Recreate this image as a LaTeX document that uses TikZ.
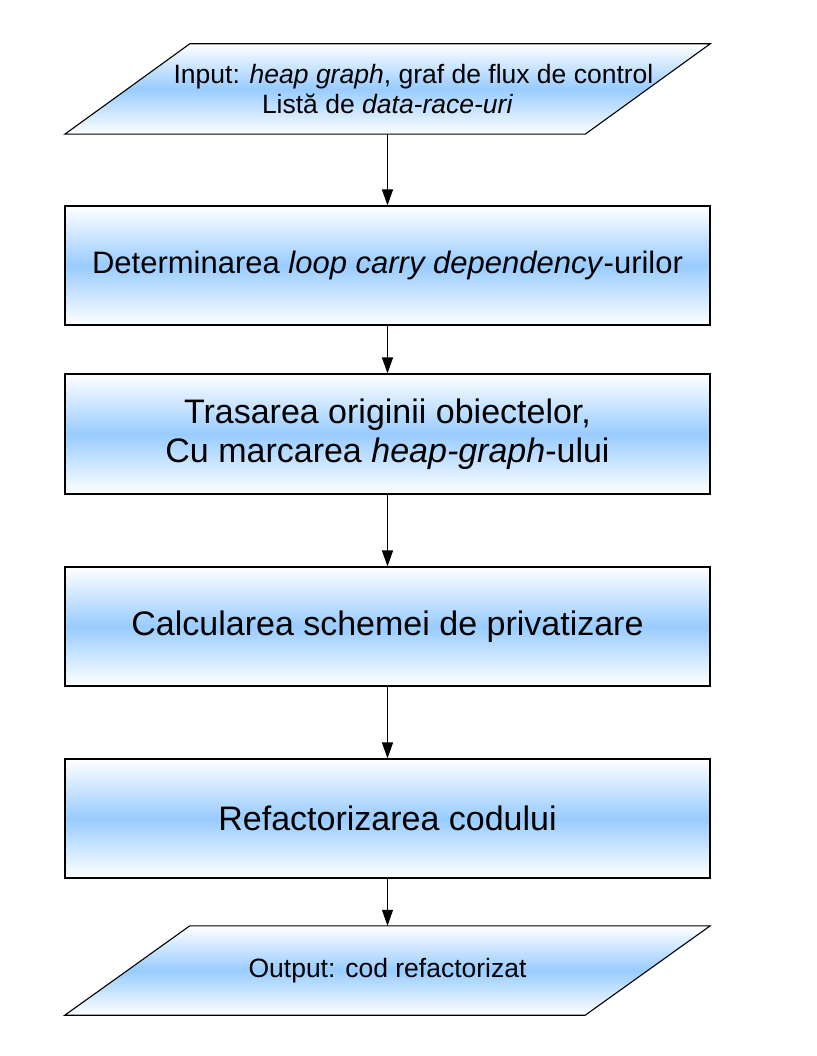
\documentclass[tikz,border=0pt]{standalone}
\usepackage{fontspec}
\setmainfont{Liberation Sans}
\usetikzlibrary{arrows.meta,backgrounds}
\definecolor{gblue}{HTML}{99CCFF}
\begin{document}
\begin{tikzpicture}[x=1pt,y=-1pt,
  stepbox/.style={rectangle, draw=black, line width=1.1pt, top color=white, bottom color=white, middle color=gblue, minimum width=645pt, minimum height=119pt, inner sep=0pt, align=center, font=\fontsize{34}{39}\selectfont},
  iobox/.style={rectangle, minimum width=645pt, minimum height=90pt, inner sep=0pt, align=center, font=\fontsize{26.5}{30.5}\selectfont},
  parashape/.style={draw=black, line width=1.1pt, top color=white, bottom color=white, middle color=gblue},
  flow/.style={draw=black, line width=1.1pt, -{Triangle[length=16pt,width=11pt]}}]
\useasboundingbox (0,0) rectangle (816,1056);

\node[iobox] (in) at (387.5,89) {\hspace*{52pt}Input: \textit{heap graph}, graf de flux de control\\ Listă de \textit{data-race-uri}};
\node[stepbox, font=\fontsize{31}{36}\selectfont] (b1) at (387.5,265.5) {Determinarea \textit{loop carry dependency}-urilor};
\node[stepbox, minimum height=120pt] (b2) at (387.5,434) {Trasarea originii obiectelor,\\ Cu marcarea \textit{heap-graph}-ului};
\node[stepbox] (b3) at (387.5,626.5) {Calcularea schemei de privatizare};
\node[stepbox] (b4) at (387.5,818.5) {Refactorizarea codului};
\node[iobox, minimum height=89pt] (out) at (387.5,970.5) {Output: cod refactorizat};

\begin{pgfonlayer}{background}
  \path[parashape] (in.south west) -- ([xshift=-125pt]in.south east) -- (in.north east) -- ([xshift=125pt]in.north west) -- cycle;
  \path[parashape] (out.south west) -- ([xshift=-125pt]out.south east) -- (out.north east) -- ([xshift=125pt]out.north west) -- cycle;
\end{pgfonlayer}

\draw[flow] (in.south) -- (b1.north);
\draw[flow] (b1.south) -- (b2.north);
\draw[flow] (b2.south) -- (b3.north);
\draw[flow] (b3.south) -- (b4.north);
\draw[flow] (b4.south) -- (out.north);
\end{tikzpicture}
\end{document}
